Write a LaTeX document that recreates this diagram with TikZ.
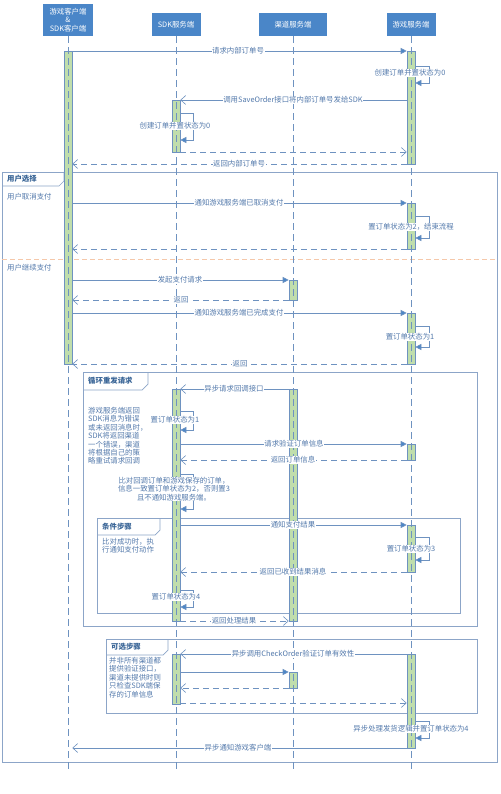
\documentclass[tikz,border=0pt]{standalone}
\usepackage{fontspec}
\setmainfont{Noto Sans CJK SC}
\usetikzlibrary{arrows.meta}
\definecolor{hdr}{RGB}{74,134,200}
\definecolor{ln}{RGB}{110,146,192}
\definecolor{tx}{RGB}{84,122,172}
\definecolor{actg}{RGB}{192,222,172}
\definecolor{frm}{RGB}{140,165,200}
\definecolor{divc}{RGB}{245,200,170}
\tikzset{
 hdrbox/.style={fill=hdr, text=white, font=\fontsize{7.4}{8.6}\selectfont, align=center, inner sep=0pt},
 actbox/.style={fill=actg, draw=ln, line width=0.6pt, minimum width=8pt, inner sep=0pt, anchor=north},
 life/.style={draw=ln, line width=0.7pt, dash pattern=on 7pt off 4pt},
 msg/.style={draw=ln, line width=0.6pt, -{Triangle[length=6pt,width=6pt,fill=hdr]}},
 amsg/.style={draw=ln, line width=0.6pt, -{Straight Barb[length=5pt,width=9pt]}},
 ret/.style={draw=ln, line width=0.6pt, dash pattern=on 6pt off 4pt, -{Straight Barb[length=5pt,width=9pt]}},
 selfm/.style={draw=ln, line width=0.6pt, -{Triangle[length=6pt,width=6pt,fill=hdr]}},
 lbl/.style={fill=white, text=tx, font=\fontsize{7.4}{8.3}\selectfont, inner sep=0.6pt, align=center},
 notetxt/.style={text=tx, font=\fontsize{7.4}{8.4}\selectfont, align=left, inner sep=0pt, anchor=north west},
 sidetxt/.style={text=tx, font=\fontsize{7.4}{8.4}\selectfont, inner sep=0pt, anchor=west},
 frm/.style={draw=frm, line width=0.7pt},
 tabtxt/.style={text=hdr!75!black, font=\bfseries\fontsize{7.4}{8}\selectfont, anchor=west, inner sep=0pt},
}
\newcommand\actbar[4]{\node[actbox, minimum height=#4pt] (#1) at (#2,#3) {};}
\begin{document}
\begin{tikzpicture}[x=1pt,y=-1pt]
\useasboundingbox (0,0) rectangle (500,794);
\fill[white] (0,0) rectangle (500,794);
% headers
\node[hdrbox, minimum width=50pt, minimum height=32pt] (hC) at (68,20) {游戏客户端\\\&\\SDK客户端};
\node[hdrbox, minimum width=49pt, minimum height=23pt] (hS) at (176,24.5) {SDK服务端};
\node[hdrbox, minimum width=68pt, minimum height=23pt] (hQ) at (293,24.5) {渠道服务端};
\node[hdrbox, minimum width=49pt, minimum height=23pt] (hG) at (411,24.5) {游戏服务端};
% frames
\draw[frm] (2,172) rectangle (497,762);
\draw[frm] (2,186) -- (59,186) -- (64,181) -- (64,172);
\node[tabtxt] (t1) at (7,179) {用户选择};
\node[sidetxt] (s1) at (7,197) {用户取消支付};
\draw[divc, line width=0.7pt, dash pattern=on 5pt off 3pt] (2,259) -- (497,259);
\node[sidetxt] (s2) at (7,268) {用户继续支付};
\draw[frm] (83,372) rectangle (477,626);
\draw[frm] (83,390) -- (142,390) -- (148,384) -- (148,372);
\node[tabtxt] (t2) at (88,381) {循环重发请求};
\node[notetxt] (n1) at (88,407) {游戏服务端返回\\SDK消息为错误\\或未返回消息时，\\SDK将返回渠道\\一个错误，渠道\\将根据自己的策\\略重试请求回调};
\draw[frm] (97,518) rectangle (460,613);
\draw[frm] (97,535) -- (155,535) -- (160,530) -- (160,518);
\node[tabtxt] (t3) at (102,526.5) {条件步骤};
\node[notetxt] (n2) at (102,538) {比对成功时，执\\行通知支付动作};
\draw[frm] (106,639) rectangle (477,713);
\draw[frm] (106,655) -- (163,655) -- (168,650) -- (168,639);
\node[tabtxt] (t4) at (111,647) {可选步骤};
\node[notetxt] (n3) at (109,657) {并非所有渠道都\\提供验证接口，\\渠道未提供时则\\只检查SDK端保\\存的订单信息};
% activation bars
\actbar{aC}{68}{51}{313}
\actbar{aG1}{411}{51}{113}
\actbar{aS1}{176}{100}{52}
\actbar{aG2}{411}{203}{46}
\actbar{aQ1}{293}{280}{20}
\actbar{aG3}{411}{313}{51}
\actbar{aS2}{176}{389}{232}
\actbar{aQ2}{293}{389}{232}
\actbar{aG4}{411}{444}{16}
\actbar{aG5}{411}{525}{47}
\actbar{aS3}{176}{654}{50}
\actbar{aQ3}{293}{672}{16}
\actbar{aG6}{411}{654}{94}
% lifelines
\draw[life] (hC.south) -- (hC.south |- 0,771);
\draw[life] (hS.south) -- (hS.south |- 0,771);
\draw[life] (hQ.south) -- (hQ.south |- 0,771);
\draw[life] (hG.south) -- (hG.south |- 0,771);
% messages
\draw[msg] (aC.east |- 0,51) -- (aG1.west |- 0,51);
\node[lbl] (l1) at (238,51) {请求内部订单号};
\draw[selfm] (aG1.east |- 0,66) -- ++(14,0) -- ++(0,17) -- (aG1.east |- 0,83);
\node[lbl] (l2) at (410,73) {创建订单并置状态为0};
\draw[amsg] (aG1.west |- 0,100) -- (aS1.east |- 0,100);
\node[lbl] (l3) at (293,100) {调用SaveOrder接口将内部订单号发给SDK};
\draw[selfm] (aS1.east |- 0,113) -- ++(13,0) -- ++(0,27) -- (aS1.east |- 0,140);
\node[lbl] (l4) at (175,126) {创建订单并置状态为0};
\draw[ret] (aS1.east |- 0,152) -- (aG1.west |- 0,152);
\draw[ret] (aG1.west |- 0,164) -- (aC.east |- 0,164);
\node[lbl] (l5) at (239,164) {返回内部订单号};
\draw[msg] (aC.east |- 0,203) -- (aG2.west |- 0,203);
\node[lbl] (l6) at (239,203) {通知游戏服务端已取消支付};
\draw[selfm] (aG2.east |- 0,216) -- ++(14,0) -- ++(0,22) -- (aG2.east |- 0,238);
\node[lbl] (l7) at (411,227) {置订单状态为2，结束流程};
\draw[ret] (aG2.west |- 0,249) -- (aC.east |- 0,249);
\draw[msg] (aC.east |- 0,280) -- (aQ1.west |- 0,280);
\node[lbl] (l8) at (180,280) {发起支付请求};
\draw[ret] (aQ1.west |- 0,300) -- (aC.east |- 0,300);
\node[lbl] (l9) at (181,300) {返回};
\draw[msg] (aC.east |- 0,313) -- (aG3.west |- 0,313);
\node[lbl] (l10) at (239,313) {通知游戏服务端已完成支付};
\draw[selfm] (aG3.east |- 0,326) -- ++(14,0) -- ++(0,21) -- (aG3.east |- 0,347);
\node[lbl] (l11) at (410,337) {置订单状态为1};
\draw[ret] (aG3.west |- 0,364) -- (aC.east |- 0,364);
\node[lbl] (l12) at (240,364) {返回};
\draw[amsg] (aQ2.west |- 0,389) -- (aS2.east |- 0,389);
\node[lbl] (l13) at (234,389) {异步请求回调接口};
\draw[selfm] (aS2.east |- 0,411) -- ++(13,0) -- ++(0,19) -- (aS2.east |- 0,430);
\node[lbl] (l14) at (175,420) {置订单状态为1};
\draw[msg] (aS2.east |- 0,444) -- (aG4.west |- 0,444);
\node[lbl] (l15) at (294,444) {请求验证订单信息};
\draw[ret] (aG4.west |- 0,460) -- (aS2.east |- 0,460);
\node[lbl] (l16) at (293,460) {返回订单信息};
\draw[selfm] (aS2.east |- 0,474) -- ++(13,0) -- ++(0,35) -- (aS2.east |- 0,509);
\node[lbl] (l17) at (174,489) {比对回调订单和游戏保存的订单，\\信息一致置订单状态为2，否则置3\\且不通知游戏服务端。};
\draw[msg] (aS2.east |- 0,525) -- (aG5.west |- 0,525);
\node[lbl] (l18) at (293,525) {通知支付结果};
\draw[selfm] (aG5.east |- 0,537) -- ++(14,0) -- ++(0,23) -- (aG5.east |- 0,560);
\node[lbl] (l19) at (411,549) {置订单状态为3};
\draw[ret] (aG5.west |- 0,572) -- (aS2.east |- 0,572);
\node[lbl] (l20) at (293,572) {返回已收到结果消息};
\draw[selfm] (aS2.east |- 0,590) -- ++(13,0) -- ++(0,17) -- (aS2.east |- 0,607);
\node[lbl] (l21) at (176,597) {置订单状态为4};
\draw[ret] (aS2.east |- 0,621) -- (aQ2.west |- 0,621);
\node[lbl] (l22) at (234,621) {返回处理结果};
\draw[amsg] (aG6.west |- 0,654) -- (aS3.east |- 0,654);
\node[lbl] (l23) at (293,654) {异步调用CheckOrder验证订单有效性};
\draw[msg] (aS3.east |- 0,672) -- (aQ3.west |- 0,672);
\draw[ret] (aQ3.west |- 0,688) -- (aS3.east |- 0,688);
\draw[ret] (aS3.east |- 0,703) -- (aG6.west |- 0,703);
\draw[selfm] (aG6.east |- 0,721) -- ++(14,0) -- ++(0,17) -- (aG6.east |- 0,738);
\node[lbl] (l24) at (411,729) {异步处理发货逻辑并置订单状态为4};
\draw[amsg] (aG6.west |- 0,748) -- (aC.east |- 0,748);
\node[lbl] (l25) at (238,748) {异步通知游戏客户端};
\end{tikzpicture}
\end{document}
